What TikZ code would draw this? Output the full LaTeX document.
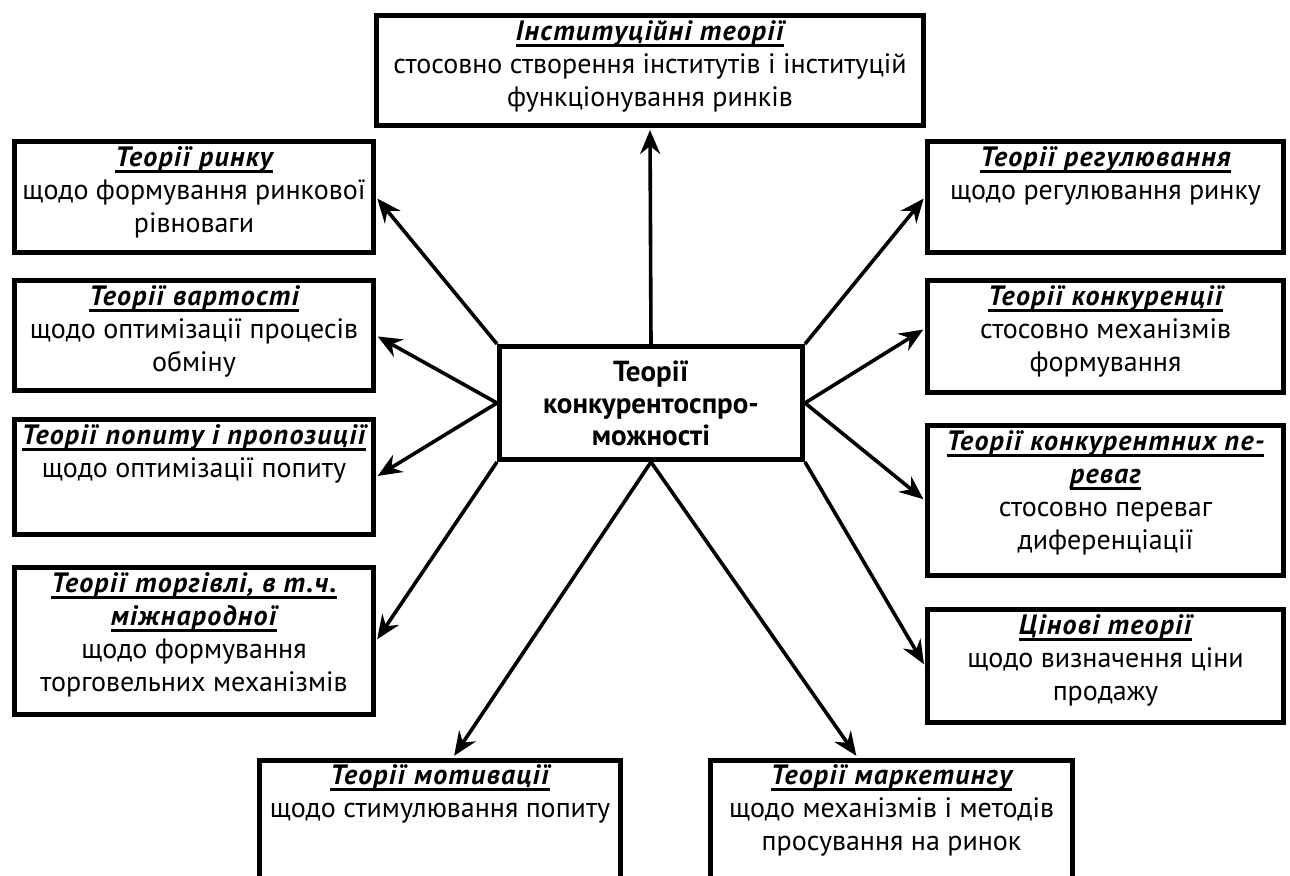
\documentclass[tikz,border=0pt]{standalone}
\usepackage{fontspec}
\setmainfont{PT Sans}
\newfontfamily\ttlfont[LetterSpace=4.5]{PT Sans}
\usetikzlibrary{arrows.meta, positioning}
\newcommand\ttl[1]{\leavevmode\setbox0\hbox{\ttlfont\bfseries\itshape #1}\rlap{\rule[-3.3pt]{\wd0}{1.5pt}}\box0}

\begin{document}
\begin{tikzpicture}[x=0.5pt, y=-0.5pt,
			every node/.style={font=\fontsize{14}{16.5}\selectfont, align=center},
			tier/.style={draw, rectangle, line width=2.5pt, inner sep=0pt},
			side/.style={tier, minimum width=179.5pt},
			legend/.style={anchor=north, inner sep=0pt, execute at begin node={\rule{0pt}{11pt}}},
			core/.style={tier, minimum width=151.5pt, minimum height=56.5pt, font=\fontsize{14.5}{16}\selectfont\bfseries},
			link/.style={-{Stealth[length=12pt, width=10pt, inset=4pt]}, line width=1.8pt, shorten >=1pt}
		]
			\useasboundingbox (0,0) rectangle (1290,876);
			\clip (0,0) rectangle (1290,876);
			% centre
			\node[core] (nodeCore) at (651,403) {Теорії\\конкурентоспро-\\можності};
			% top
			\node[tier, minimum width=273.5pt, minimum height=55pt] (nodeInst) at (650,70.5) {};
			\node[legend] (txtInst) at ([yshift=-3.5pt]nodeInst.north) {\ttl{Інституційні теорії}\\стосовно створення інститутів і інституцій\\функціонування ринків};
			% left column
			\node[side, minimum height=55.5pt] (nodeMarket) at (194,197) {};
			\node[legend] (txtMarket) at ([yshift=-3.5pt]nodeMarket.north) {\ttl{Теорії ринку}\\щодо формування ринкової\\рівноваги};
			\node[side, minimum height=55pt] (nodeValue) at (194,335.5) {};
			\node[legend] (txtValue) at ([yshift=-3.5pt]nodeValue.north) {\ttl{Теорії вартості}\\щодо оптимізації процесів\\обміну};
			\node[side, minimum height=57.5pt] (nodeDemand) at (194,477) {};
			\node[legend] (txtDemand) at ([yshift=-3.5pt]nodeDemand.north) {\ttl{Теорії попиту і пропозиції}\\щодо оптимізації попиту};
			\node[side, minimum height=73.5pt] (nodeTrade) at (194,641) {};
			\node[legend] (txtTrade) at ([yshift=-3.5pt]nodeTrade.north) {\ttl{Теорії торгівлі, в т.ч.}\\\ttl{міжнародної}\\щодо формування\\торговельних механізмів};
			% right column
			\node[side, minimum width=178pt, minimum height=55.5pt] (nodeRegul) at (1105.5,197) {};
			\node[legend] (txtRegul) at ([yshift=-3.5pt]nodeRegul.north) {\ttl{Теорії регулювання}\\щодо регулювання ринку};
			\node[side, minimum width=178pt, minimum height=56pt] (nodeCompet) at (1105.5,336.5) {};
			\node[legend] (txtCompet) at ([yshift=-3.5pt]nodeCompet.north) {\ttl{Теорії конкуренції}\\стосовно механізмів\\формування};
			\node[side, minimum width=178pt, minimum height=75pt] (nodeAdv) at (1105.5,500.5) {};
			\node[legend] (txtAdv) at ([yshift=-3.5pt]nodeAdv.north) {\ttl{Теорії конкурентних пе-}\\\ttl{реваг}\\стосовно переваг\\диференціації};
			\node[side, minimum width=178pt, minimum height=56.5pt] (nodePrice) at (1105.5,666) {};
			\node[legend] (txtPrice) at ([yshift=-3.5pt]nodePrice.north) {\ttl{Цінові теорії}\\щодо визначення ціни\\продажу};
			% bottom row
			\node[side, minimum width=180.5pt, minimum height=70pt] (nodeMotiv) at (440,830) {};
			\node[legend] (txtMotiv) at ([yshift=-3.5pt]nodeMotiv.north) {\ttl{Теорії мотивації}\\щодо стимулювання попиту};
			\node[side, minimum width=181pt, minimum height=70pt] (nodeMarketing) at (891.5,830) {};
			\node[legend] (txtMarketing) at ([yshift=-3.5pt]nodeMarketing.north) {\ttl{Теорії маркетингу}\\щодо механізмів і методів\\просування на ринок};
			% arrows
			\path[link] (nodeCore.north) edge (nodeInst.south);
			\path[link] (nodeCore.north west) edge (nodeMarket.east);
			\path[link] (nodeCore.west) edge (nodeValue.east);
			\path[link] (nodeCore.west) edge (nodeDemand.east);
			\path[link] (nodeCore.south west) edge (nodeTrade.east);
			\path[link] (nodeCore.north east) edge (nodeRegul.west);
			\path[link] (nodeCore.east) edge ([yshift=4pt]nodeCompet.west);
			\path[link] (nodeCore.east) edge (nodeAdv.west);
			\path[link] (nodeCore.south east) edge (nodePrice.west);
			\path[link] (nodeCore.south) edge ([xshift=6.5pt]nodeMotiv.north);
			\path[link] (nodeCore.south) edge ([xshift=-17pt]nodeMarketing.north);
		\end{tikzpicture}
\end{document}
